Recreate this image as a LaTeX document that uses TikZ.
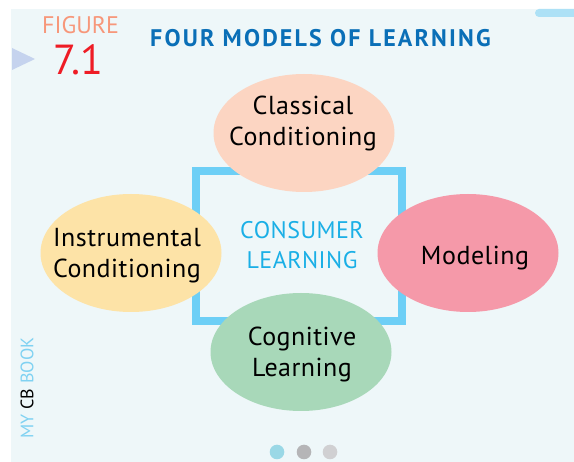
\documentclass[tikz,border=0pt]{standalone}
\usepackage{fontspec}
\setmainfont{PT Sans}
\usetikzlibrary{shapes.geometric}
\definecolor{panel}{HTML}{EEF7F9}
\definecolor{frameblue}{HTML}{6DCFF6}
\definecolor{barblue}{HTML}{ADE1F6}
\definecolor{titleblue}{HTML}{0A6FB7}
\definecolor{coreblue}{HTML}{1AAFE6}
\definecolor{sideblue}{HTML}{80D2F2}
\definecolor{figsalmon}{HTML}{F7977A}
\definecolor{figred}{HTML}{EE1C25}
\definecolor{arrowgray}{HTML}{C5D3EE}
\definecolor{classical}{HTML}{FCD5C2}
\definecolor{instrumental}{HTML}{FDE3A7}
\definecolor{modeling}{HTML}{F599A9}
\definecolor{cognitive}{HTML}{A8D8B9}
\definecolor{dotone}{HTML}{9AD8E6}
\definecolor{dottwo}{HTML}{B5B5B7}
\definecolor{dotthree}{HTML}{D0D0D2}
\begin{document}
\begin{tikzpicture}[x=1pt,y=-1pt,line join=round,line cap=round,
		bubble/.style={ellipse,fill=#1,inner sep=0pt,minimum width=181pt,minimum height=118pt},
		bubbletext/.style={align=center,inner sep=0pt,font=\fontsize{26}{31}\selectfont\addfontfeatures{LetterSpace=2}},
		dot/.style={circle,fill=#1,inner sep=0pt,minimum size=14.6pt}]
	\useasboundingbox (0,0) rectangle (574,462);
	%%% page and header
	\fill[white] (0,0) rectangle (574,462);
	\fill[panel] (11,9) rectangle (574,462);
	\fill[barblue,rounded corners=4pt] (535,9) rectangle (580,17);
	\fill[arrowgray] (12,48)--(12,70)--(35,59)--cycle;
	\node[anchor=base west,inner sep=0pt,text=figsalmon,font=\fontsize{24}{24}\selectfont] (fig) at (42,34) {FIGURE};
	\node[anchor=base west,inner sep=0pt,text=figred,font=\fontsize{42}{42}\selectfont] (fignum) at (53,75) {7.1};
	\node[anchor=base west,inner sep=0pt,text=titleblue,font=\fontsize{24}{24}\selectfont\bfseries\addfontfeatures{LetterSpace=9}] (title) at (150,47) {FOUR MODELS OF LEARNING};
	\node[rotate=90,inner sep=0pt,font=\fontsize{18}{18}\selectfont] (book) at (27,388) {\textcolor{sideblue}{MY} CB \textcolor{sideblue}{BOOK}};
	%%% frame and the four models
	\draw[frameblue,line width=8pt,line cap=butt,line join=miter] (196,171) rectangle (402,321);
	\node[bubble=classical] (cc) at (304,133) {};
	\node[bubble=instrumental] (ic) at (131,253) {};
	\node[bubble=modeling] (mo) at (468,253) {};
	\node[bubble=cognitive] (cl) at (301,352) {};
	\node[bubbletext] (cctext) at (303,124) {Classical\\Conditioning};
	\node[bubbletext] (ictext) at (127,256) {Instrumental\\Conditioning};
	\node[bubbletext] (motext) at (475,258) {Modeling};
	\node[bubbletext] (cltext) at (302,355) {Cognitive\\Learning};
	\node[bubbletext,text=coreblue,font=\fontsize{24}{30}\selectfont\addfontfeatures{LetterSpace=2}] (core) at (302,245) {CONSUMER\\LEARNING};
	%%% page dots
	\foreach \x/\c [count=\i] in {277/dotone,304/dottwo,330/dotthree}
		\node[dot=\c] (dot\i) at (\x,452) {};
\end{tikzpicture}
\end{document}
